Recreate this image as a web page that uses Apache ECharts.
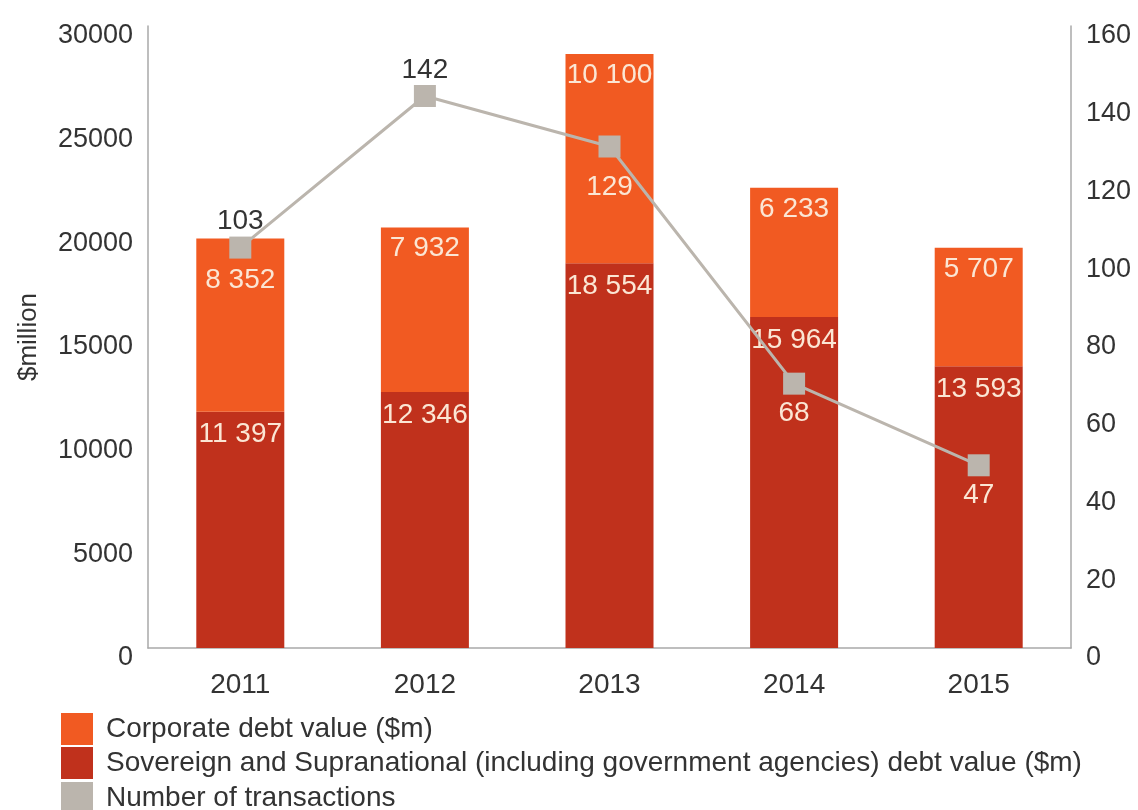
<!DOCTYPE html>
<html>
<head>
<meta charset="utf-8">
<script src="https://cdn.jsdelivr.net/npm/echarts@6/dist/echarts.min.js"></script>
<style>
  html, body { margin: 0; padding: 0; background: #fff; overflow: hidden; }
  #chart { width: 1138px; height: 810px; }
</style>
</head>
<body>
<div id="chart"></div>
<script>
// Debt issuance by year
const years = ['2011', '2012', '2013', '2014', '2015'];
const sovereignDebt = [11397, 12346, 18554, 15964, 13593];
const corporateDebt = [8352, 7932, 10100, 6233, 5707];
const transactions = [103, 142, 129, 68, 47];

const leftTicks = { min: 0, max: 30000, interval: 5000 };
const rightTicks = { min: 0, max: 160, interval: 20 };

const legendNames = [
  'Corporate debt value ($m)',
  'Sovereign and Supranational (including government agencies) debt value ($m)',
  'Number of transactions'
];

const FONT = 'Liberation Sans, Arial, Helvetica, sans-serif';
const FS = 28;
const TEXT = '#333333';
const AXIS = '#a9a9a9';
const COL_CORP = '#f15a22';
const COL_SOV = '#c0311c';
const COL_LINE = '#bbb5ad';
const LABEL_LIGHT = '#fbe6d4';

const spaced = v => String(v).replace(/\B(?=(\d{3})+(?!\d))/g, ' ');

// transaction labels: above the marker for the first two years, below afterwards
const lineLabelStyle = i => {
  if (i < 2) return { position: 'top', distance: 1, color: TEXT };
  return { position: 'bottom', distance: i === 2 ? 16 : 5, color: LABEL_LIGHT };
};

const chart = echarts.init(document.getElementById('chart'), null, { renderer: 'canvas' });

const legendTops = [713, 747, 782];
const legends = legendNames.map((n, i) => ({
  orient: 'vertical',
  left: 61,
  top: legendTops[i],
  padding: 0,
  itemWidth: 32,
  itemHeight: 32,
  icon: 'rect',
  data: [n],
  textStyle: { fontSize: FS, color: TEXT, fontFamily: FONT, padding: [0, 0, 0, 8] }
}));

// tick labels sit slightly below their tick position
const tickLabel = (margin) => ({
  fontSize: 27, color: TEXT, margin: margin, fontFamily: FONT,
  verticalAlign: 'top', lineHeight: 20,
  formatter: v => String(v)
});

chart.setOption({
  animation: false,
  backgroundColor: '#ffffff',
  textStyle: { fontFamily: FONT },
  grid: { left: 148, right: 67, top: 26, bottom: 162, containLabel: false, outerBoundsMode: 'none' },
  legend: legends,
  xAxis: {
    type: 'category',
    data: years,
    axisLine: { show: true, lineStyle: { color: AXIS, width: 1.5 } },
    axisTick: { show: false },
    axisLabel: { fontSize: FS, color: TEXT, margin: 23, fontFamily: FONT }
  },
  yAxis: [
    {
      type: 'value',
      min: leftTicks.min, max: leftTicks.max, interval: leftTicks.interval,
      name: '$million',
      nameLocation: 'middle',
      nameGap: 106,
      nameRotate: 90,
      nameTextStyle: { fontSize: 26, color: TEXT, fontFamily: FONT },
      axisLine: { show: true, lineStyle: { color: AXIS, width: 1.5 } },
      axisTick: { show: false },
      splitLine: { show: false },
      axisLabel: tickLabel(15)
    },
    {
      type: 'value',
      min: rightTicks.min, max: rightTicks.max, interval: rightTicks.interval,
      position: 'right',
      axisLine: { show: true, lineStyle: { color: AXIS, width: 1.5 } },
      axisTick: { show: false },
      splitLine: { show: false },
      axisLabel: tickLabel(15)
    }
  ],
  series: [
    {
      name: legendNames[1],
      type: 'bar',
      stack: 'debt',
      yAxisIndex: 0,
      barWidth: 88,
      data: sovereignDebt,
      itemStyle: { color: COL_SOV },
      label: {
        show: true, position: 'insideTop', distance: 9,
        color: LABEL_LIGHT, fontSize: FS, fontFamily: FONT,
        formatter: p => spaced(p.value)
      }
    },
    {
      name: legendNames[0],
      type: 'bar',
      stack: 'debt',
      yAxisIndex: 0,
      barWidth: 88,
      // the first label sits lower to clear the transaction marker
      data: corporateDebt.map((v, i) => i === 0 ? { value: v, label: { distance: 28 } } : v),
      itemStyle: { color: COL_CORP },
      label: {
        show: true, position: 'insideTop', distance: 7,
        color: LABEL_LIGHT, fontSize: FS, fontFamily: FONT,
        formatter: p => spaced(p.value)
      }
    },
    {
      name: legendNames[2],
      type: 'line',
      yAxisIndex: 1,
      symbol: 'rect',
      symbolSize: 22,
      z: 5,
      lineStyle: { color: COL_LINE, width: 3 },
      itemStyle: { color: COL_LINE },
      data: transactions.map((v, i) => ({ value: v, label: lineLabelStyle(i) })),
      label: { show: true, fontSize: FS, fontFamily: FONT }
    }
  ]
});
</script>
</body>
</html>
